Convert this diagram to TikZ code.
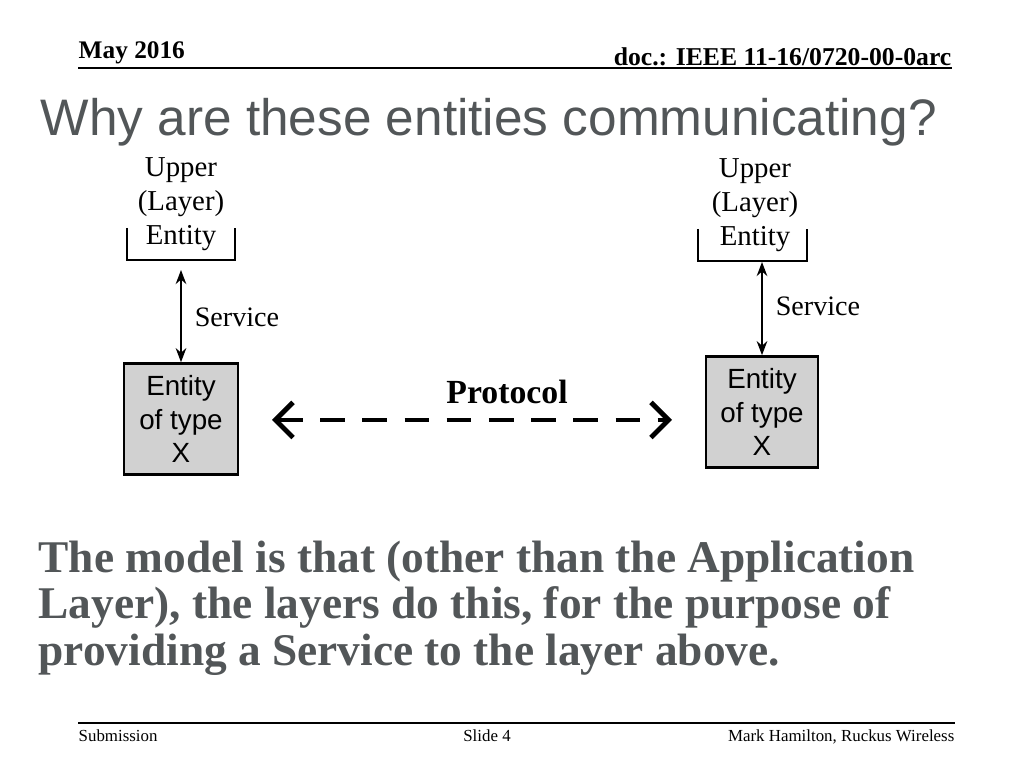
\documentclass[tikz,border=0pt]{standalone}
\usepackage{fontspec}
\setmainfont{Liberation Serif}
\setsansfont{Liberation Sans}
\usetikzlibrary{arrows.meta}
\definecolor{slidegrey}{RGB}{82,86,88}
\tikzset{
  entitybox/.style={draw, line width=0.7pt, fill=black!18, align=center, font=\sffamily\fontsize{7.9}{9.6}\selectfont},
  uppertext/.style={align=center, font=\fontsize{8.2}{9.7}\selectfont},
  servicearrow/.style={{Stealth[length=4pt]}-{Stealth[length=4pt]}, line width=0.6pt},
  small/.style={font=\fontsize{4.8}{5.5}\selectfont, inner sep=0pt}
}
\begin{document}
\begin{tikzpicture}[x=0.01cm, y=-0.01cm]
    \useasboundingbox (0,0) rectangle (1024,768);
    % header and footer
    \draw [line width=0.5pt] (78,68) -- (952,68);
    \node [anchor=west, inner sep=0pt, font=\bfseries\fontsize{7.2}{8}\selectfont] (date) at (78,53) {May 2016};
    \node [anchor=east, inner sep=0pt, font=\bfseries\fontsize{7.3}{8}\selectfont] (doc) at (952,57) {doc.: IEEE 11-16/0720-00-0arc};
    \draw [line width=0.5pt] (78,723) -- (955,723);
    \node [small, anchor=west] (sub) at (78,736) {Submission};
    \node [small] (slide) at (487,736) {Slide 4};
    \node [small, anchor=east] (author) at (955,737) {Mark Hamilton, Ruckus Wireless};
    \node [anchor=west, inner sep=0pt, text=slidegrey, font=\sffamily\fontsize{14.6}{16}\selectfont] (title) at (40,122) {Why are these entities communicating?};
    % upper entities
    \node [uppertext] (upL) at (181,204) {Upper\\(Layer)\\Entity};
    \node [uppertext] (upR) at (755,205) {Upper\\(Layer)\\Entity};
    \draw [line width=0.7pt] (127,228) -- (127,260) -- (235,260) -- (235,228);
    \draw [line width=0.7pt] (698,229) -- (698,261) -- (807,261) -- (807,229);
    % entities of type X
    \node [entitybox, minimum width=1.14cm, minimum height=1.06cm] (entL) at (181,419) {Entity\\of type\\X};
    \node [entitybox, minimum width=1.12cm, minimum height=1.07cm] (entR) at (762,412) {Entity\\of type\\X};
    \draw [servicearrow] (181,270) -- (entL.north);
    \draw [servicearrow] (762,262) -- (entR.north);
    \node [font=\fontsize{8}{9}\selectfont] (srvL) at (237,317) {Service};
    \node [font=\fontsize{8}{9}\selectfont] (srvR) at (818,306) {Service};
    \node [font=\bfseries\fontsize{9.6}{10}\selectfont] (proto) at (507,392) {Protocol};
    \draw [{Straight Barb[length=5pt]}-{Straight Barb[length=5pt]}, line width=1.4pt, dash pattern=on 7pt off 5pt] (272,420) -- (672,420);
    % body text
    \node [anchor=north west, inner sep=0pt, align=left, text=slidegrey, font=\bfseries\fontsize{12.9}{13.3}\selectfont] (body) at (38,540)
      {The model is that (other than the Application\\Layer), the layers do this, for the purpose of\\providing a Service to the layer above.};
\end{tikzpicture}
\end{document}
